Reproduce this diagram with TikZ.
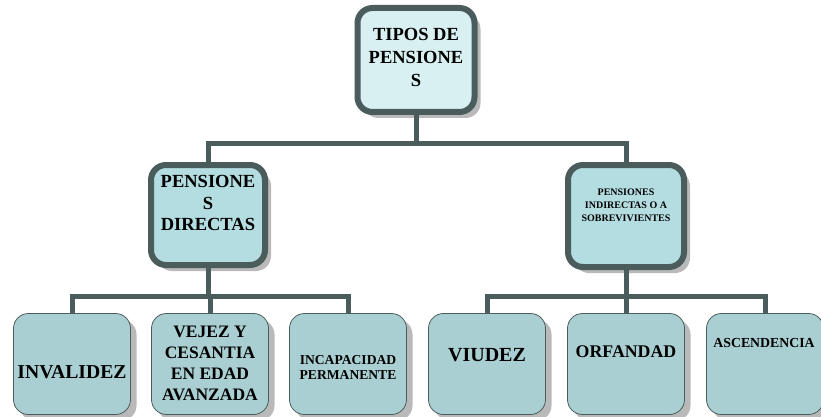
\documentclass[tikz,border=0pt]{standalone}
\usepackage{fontspec}
\setmainfont{Liberation Serif}
\usetikzlibrary{shadows}
\definecolor{linegray}{HTML}{4B5C5C}
\definecolor{topfill}{HTML}{D9F0F2}
\definecolor{midfill}{HTML}{B3DDE1}
\definecolor{lowfill}{HTML}{AACFD2}
\tikzset{
  shade/.style={drop shadow={shadow xshift=6pt, shadow yshift=-6pt, fill=gray!55, opacity=1}},
  bigbox/.style={draw=linegray, line width=6pt, rounded corners=15pt, shade},
  smallbox/.style={draw=linegray, line width=0.8pt, rounded corners=15pt, fill=lowfill,
    minimum width=117pt, minimum height=101pt, shade},
  conn/.style={draw=linegray, line width=5pt},
  txt/.style={align=center, inner sep=0pt}
}
\begin{document}
\begin{tikzpicture}[x=1pt, y=-1pt]
  \useasboundingbox (0,0) rectangle (821,417);
  % boxes
  \node[bigbox, fill=topfill, minimum width=117pt, minimum height=104pt] (tipos) at (416,60) {};
  \node[bigbox, fill=midfill, minimum width=114pt, minimum height=100pt] (directas) at (208,215) {};
  \node[bigbox, fill=midfill, minimum width=116pt, minimum height=102pt] (indirectas) at (626,216) {};
  \node[smallbox] (invalidez) at (72,364) {};
  \node[smallbox] (vejez) at (210,364) {};
  \node[smallbox] (incapacidad) at (348,364) {};
  \node[smallbox] (viudez) at (487,364) {};
  \node[smallbox] (orfandad) at (626,364) {};
  \node[smallbox] (ascendencia) at (765,364) {};
  % connectors
  \coordinate (busa) at (0,143);
  \coordinate (busb) at (0,296);
  \draw[conn] (tipos.south) -- (tipos.south |- busa);
  \draw[conn] (directas.north) |- (indirectas.north |- busa) -- (indirectas.north);
  \draw[conn] (directas.south) -- (directas.south |- busb);
  \draw[conn] (invalidez.north) |- (incapacidad.north |- busb) -- (incapacidad.north);
  \draw[conn] (vejez.north) -- (vejez.north |- busb);
  \draw[conn] (indirectas.south) -- (indirectas.south |- busb);
  \draw[conn] (viudez.north) |- (ascendencia.north |- busb) -- (ascendencia.north);
  \draw[conn] (orfandad.north) -- (orfandad.north |- busb);
  % texts
  \node[txt, font=\fontsize{18.5}{23}\selectfont\bfseries] (ttipos) at (416,57) {TIPOS DE\\PENSIONE\\S};
  \node[txt, font=\fontsize{18.5}{21.5}\selectfont\bfseries] (tdirectas) at (208,203) {PENSIONE\\S\\DIRECTAS};
  \node[txt, font=\fontsize{10}{13}\selectfont\bfseries] (tindirectas) at (626,205) {PENSIONES\\INDIRECTAS O A\\SOBREVIVIENTES};
  \node[txt, font=\fontsize{19.7}{22}\selectfont\bfseries] (tinvalidez) at (72,372) {INVALIDEZ};
  \node[txt, font=\fontsize{17.5}{21}\selectfont\bfseries] (tvejez) at (210,363) {VEJEZ Y\\CESANTIA\\EN EDAD\\AVANZADA};
  \node[txt, font=\fontsize{13.6}{15}\selectfont\bfseries] (tincapacidad) at (348,367) {INCAPACIDAD\\PERMANENTE};
  \node[txt, font=\fontsize{20}{22}\selectfont\bfseries] (tviudez) at (487,355) {VIUDEZ};
  \node[txt, font=\fontsize{17.8}{21}\selectfont\bfseries] (torfandad) at (626,352) {ORFANDAD};
  \node[txt, font=\fontsize{13.8}{15}\selectfont\bfseries] (tascendencia) at (764,343) {ASCENDENCIA};
\end{tikzpicture}
\end{document}
